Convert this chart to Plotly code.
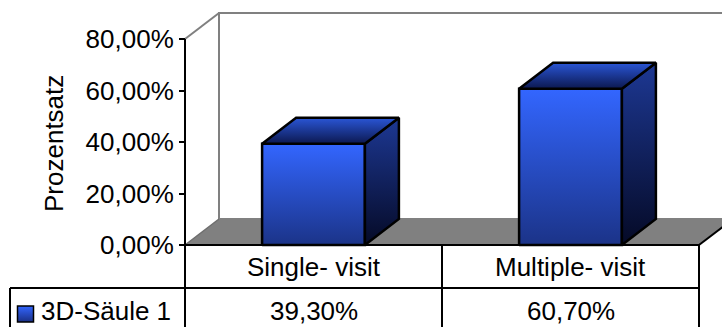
import plotly.graph_objects as go

# ---- data ----
categories = ["Single- visit", "Multiple- visit"]
values = [39.3, 60.7]
series_name = "3D-Säule 1"
tick_values = [0, 20, 40, 60, 80]
tick_labels = ["0,00%", "20,00%", "40,00%", "60,00%", "80,00%"]
axis_title = "Prozentsatz"

# ---- geometry (axis units) ----
W, H = 722, 327
PX_PER_CAT = 257.0          # pixels per category slot
PX_PER_PCT = 2.575          # pixels per percent
X0_PX, Y0_PX = 185.0, 245.0  # pixel position of (0, 0)
DX = 34 / PX_PER_CAT         # oblique depth offset
DY = 26 / PX_PER_PCT
BAR_W = 0.4
Y_MAX = 80

def px_x(p):
    return (p - X0_PX) / PX_PER_CAT

def px_y(q):
    return (Y0_PX - q) / PX_PER_PCT

x_range = [px_x(0), px_x(W)]
y_range = [px_y(H), px_y(0)]
n = len(categories)
table_row_y = px_y(288)
table_left = px_x(10)

FONT = "Arial, Liberation Sans, sans-serif"

fig = go.Figure()

def face(xs, ys, c_bottom, c_top):
    fig.add_trace(go.Scatter(
        x=xs + xs[:1], y=ys + ys[:1], mode="lines", fill="toself",
        fillgradient=dict(type="vertical",
                          colorscale=[[0, c_bottom], [1, c_top]]),
        line=dict(color="black", width=2.5),
        hoverinfo="skip", showlegend=False))

# bars: front, top and side faces
for i, v in enumerate(values):
    xl = i + 0.5 - BAR_W / 2
    xr = i + 0.5 + BAR_W / 2
    face([xl, xr, xr, xl], [0, 0, v, v], "#1b3388", "#3366ff")
    face([xr, xr + DX, xr + DX, xr], [0, DY, v + DY, v], "#050a26", "#1d3894")
    face([xl, xr, xr + DX, xl + DX], [v, v, v + DY, v + DY], "#0c1850", "#2a56d6")

# legend key in the data table
fig.add_trace(go.Scatter(
    x=[px_x(25.5)], y=[px_y(314)], mode="markers",
    marker=dict(symbol="square", size=16, color="#3366ff",
                gradient=dict(type="vertical", color="#1a2f85"),
                line=dict(color="black", width=1.5)),
    hoverinfo="skip", showlegend=False))

shapes = []
# side wall and back wall
shapes.append(dict(type="path", xref="x", yref="y", layer="below",
                   path=f"M0,0 L{DX},{DY} L{DX},{Y_MAX + DY} L0,{Y_MAX} Z",
                   fillcolor="white", line=dict(width=0)))
shapes.append(dict(type="rect", xref="x", yref="y", layer="below",
                   x0=DX, x1=n + DX, y0=DY, y1=Y_MAX + DY,
                   fillcolor="white", line=dict(color="#808080", width=2)))
shapes.append(dict(type="line", xref="x", yref="y", layer="below",
                   x0=0, y0=Y_MAX, x1=DX, y1=Y_MAX + DY,
                   line=dict(color="#808080", width=2)))
# floor
shapes.append(dict(type="path", xref="x", yref="y", layer="below",
                   path=f"M0,0 L{n},0 L{n + DX},{DY} L{DX},{DY} Z",
                   fillcolor="#808080", line=dict(width=0)))
shapes.append(dict(type="line", xref="x", yref="y", layer="below",
                   x0=0, y0=0, x1=DX, y1=DY,
                   line=dict(color="#6e6e6e", width=1.5)))
shapes.append(dict(type="line", xref="x", yref="y", layer="below",
                   x0=n, y0=0, x1=n + DX, y1=DY,
                   line=dict(color="black", width=2)))

# value axis line, running down into the table
shapes.append(dict(type="line", xref="x", yref="y",
                   x0=0, y0=Y_MAX, x1=0, y1=y_range[0],
                   line=dict(color="black", width=2)))
# data table grid
shapes.append(dict(type="line", xref="x", yref="y",
                   x0=0, y0=0, x1=n, y1=0, line=dict(color="black", width=2)))
shapes.append(dict(type="line", xref="x", yref="y",
                   x0=table_left, y0=table_row_y, x1=n, y1=table_row_y,
                   line=dict(color="black", width=2)))
shapes.append(dict(type="line", xref="x", yref="y",
                   x0=table_left, y0=table_row_y, x1=table_left, y1=y_range[0],
                   line=dict(color="black", width=2)))
for k in range(1, n + 1):
    shapes.append(dict(type="line", xref="x", yref="y",
                       x0=k, y0=0, x1=k, y1=y_range[0],
                       line=dict(color="black", width=2)))

annotations = []
row2_y = px_y(H)
for i, (c, v) in enumerate(zip(categories, values)):
    annotations.append(dict(x=i + 0.5, y=px_y(267), xref="x", yref="y",
                            text=c, showarrow=False, xanchor="center",
                            yanchor="middle", font=dict(size=26)))
    annotations.append(dict(x=i + 0.5, y=row2_y, xref="x", yref="y",
                            text=f"{v:.2f}%".replace(".", ","),
                            showarrow=False, xanchor="center",
                            yanchor="bottom", borderpad=0,
                            font=dict(size=26)))
annotations.append(dict(x=px_x(40), y=row2_y, xref="x", yref="y",
                        text=series_name, showarrow=False, xanchor="left",
                        yanchor="bottom", borderpad=0, font=dict(size=26)))
annotations.append(dict(x=54 / W, y=1 - 143 / H, xref="paper", yref="paper",
                        text=axis_title, textangle=-90, showarrow=False,
                        xanchor="center", yanchor="middle", font=dict(size=26)))

fig.update_layout(
    width=W, height=H,
    margin=dict(l=0, r=0, t=0, b=0),
    paper_bgcolor="white", plot_bgcolor="white",
    font=dict(family=FONT, color="black", size=26),
    hovermode=False, showlegend=False,
    shapes=shapes, annotations=annotations,
    xaxis=dict(range=x_range, visible=False, fixedrange=True),
    yaxis=dict(range=y_range, anchor="free", position=X0_PX / W, side="left",
               showline=False, showgrid=False, zeroline=False,
               ticks="outside", ticklen=6, tickwidth=2, tickcolor="black",
               tickvals=tick_values, ticktext=tick_labels,
               tickfont=dict(size=26, family=FONT, color="black"),
               fixedrange=True),
)

fig.write_html("out.html", config={"displayModeBar": False})
